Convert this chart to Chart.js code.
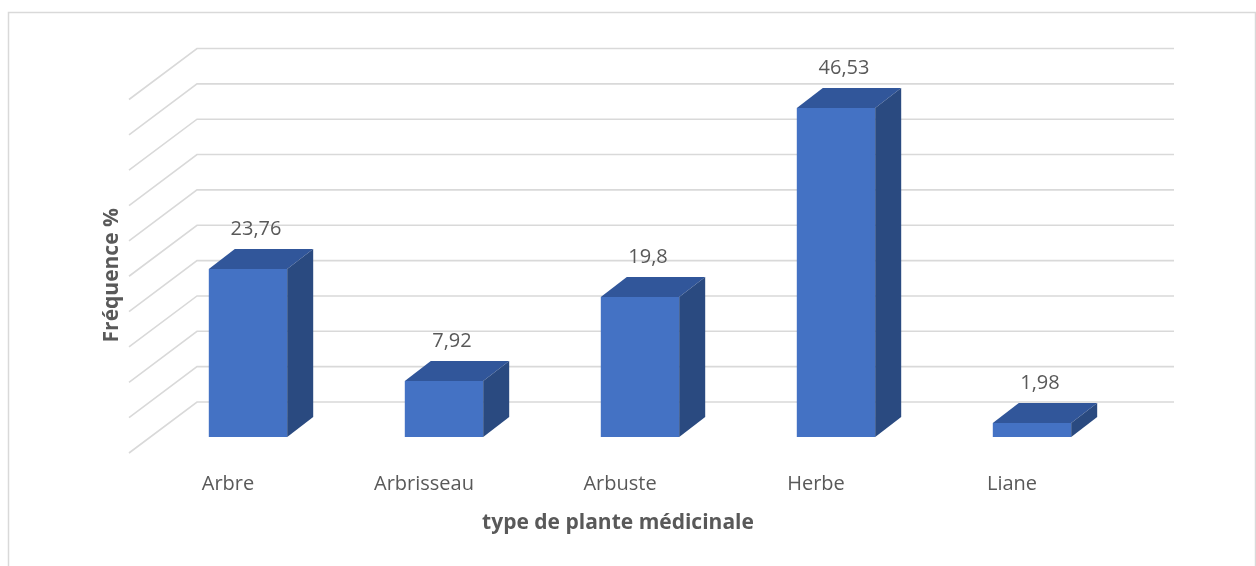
<!DOCTYPE html>
<html lang="fr">
<head>
<meta charset="utf-8">
<title>Fréquence par type de plante médicinale</title>
<script src="https://cdn.jsdelivr.net/npm/chart.js@4.4.1/dist/chart.umd.min.js"></script>
<style>
    html, body { margin: 0; padding: 0; background: #ffffff; }
    #zone { position: relative; width: 1256px; height: 566px; }
</style>
</head>
<body>
<div id="zone"><canvas id="graphique"></canvas></div>
<script>
// Données
const categories = ['Arbre', 'Arbrisseau', 'Arbuste', 'Herbe', 'Liane'];
const frequences = [23.76, 7.92, 19.8, 46.53, 1.98];
const etiquettesValeurs = ['23,76', '7,92', '19,8', '46,53', '1,98'];
const graduations = [0, 5, 10, 15, 20, 25, 30, 35, 40, 45, 50];

const titreX = 'type de plante médicinale';
const titreY = 'Fréquence %';

const COULEUR_FACE = '#4472C4';
const COULEUR_DESSUS = '#31569A';
const COULEUR_COTE = '#2A4A80';
const COULEUR_GRILLE = '#D9D9D9';
const COULEUR_TEXTE = '#595959';
const POLICE = '"Open Sans", "Liberation Sans", sans-serif';

// Effet 3D : profondeur des barres et recul du mur du fond
const PROF_X = 26, PROF_Y = -20;
const MUR_DY = -35, MUR_GAUCHE = 197, MUR_DROITE = 1174;
const COTE_DX = -68, COTE_DY = 51;

const decor3D = {
    id: 'decor3D',
    beforeDatasetsDraw(chart) {
        const ctx = chart.ctx;
        const y = chart.scales.y;
        ctx.save();

        // cadre du graphique
        ctx.strokeStyle = COULEUR_GRILLE;
        ctx.lineWidth = 1.5;
        ctx.strokeRect(8.5, 12.5, 1247, 620);

        // quadrillage sur le mur du fond et le mur de gauche
        ctx.lineWidth = 1.6;
        graduations.forEach(v => {
            const py = y.getPixelForValue(v) + MUR_DY;
            ctx.beginPath();
            ctx.moveTo(MUR_GAUCHE + COTE_DX, py + COTE_DY);
            ctx.lineTo(MUR_GAUCHE, py);
            ctx.lineTo(MUR_DROITE, py);
            ctx.stroke();
        });
        ctx.restore();
    },
    afterDatasetsDraw(chart) {
        const ctx = chart.ctx;
        const barres = chart.getDatasetMeta(0).data;
        ctx.save();

        barres.forEach((barre, i) => {
            const { x, y, base, width } = barre.getProps(['x', 'y', 'base', 'width'], true);
            const g = x - width / 2, d = x + width / 2;

            // dessus
            ctx.fillStyle = COULEUR_DESSUS;
            ctx.beginPath();
            ctx.moveTo(g, y);
            ctx.lineTo(g + PROF_X, y + PROF_Y);
            ctx.lineTo(d + PROF_X, y + PROF_Y);
            ctx.lineTo(d, y);
            ctx.closePath();
            ctx.fill();

            // côté droit
            ctx.fillStyle = COULEUR_COTE;
            ctx.beginPath();
            ctx.moveTo(d, y);
            ctx.lineTo(d + PROF_X, y + PROF_Y);
            ctx.lineTo(d + PROF_X, base + PROF_Y);
            ctx.lineTo(d, base);
            ctx.closePath();
            ctx.fill();

            // étiquette de valeur
            ctx.fillStyle = COULEUR_TEXTE;
            ctx.font = '20px ' + POLICE;
            ctx.textAlign = 'center';
            ctx.textBaseline = 'middle';
            ctx.fillText(etiquettesValeurs[i], x + 8, y + PROF_Y - 20);
        });

        // titres des axes
        const zone = chart.chartArea;
        ctx.font = 'bold 21px ' + POLICE;
        ctx.fillStyle = COULEUR_TEXTE;
        ctx.textAlign = 'center';
        ctx.textBaseline = 'middle';
        ctx.fillText(titreX, (zone.left + zone.right) / 2 - 22, zone.bottom + 86);

        ctx.translate(zone.left - 38, (zone.top + zone.bottom) / 2 + 15);
        ctx.rotate(-Math.PI / 2);
        ctx.fillText(titreY, 0, 0);
        ctx.restore();
    }
};

new Chart(document.getElementById('graphique'), {
    type: 'bar',
    data: {
        labels: categories,
        datasets: [{
            data: frequences,
            backgroundColor: COULEUR_FACE,
            borderWidth: 0,
            barPercentage: 0.4,
            categoryPercentage: 1.0
        }]
    },
    options: {
        responsive: true,
        maintainAspectRatio: false,
        animation: false,
        layout: { padding: { left: 150, right: 126, top: 83.5, bottom: 35 } },
        plugins: {
            legend: { display: false },
            tooltip: { enabled: false }
        },
        scales: {
            x: {
                grid: { display: false, drawTicks: false },
                border: { display: false },
                ticks: {
                    color: COULEUR_TEXTE,
                    font: { family: POLICE, size: 20 },
                    padding: 35,
                    labelOffset: -20,
                    maxRotation: 0
                }
            },
            y: {
                display: false,
                min: 0,
                max: 50
            }
        }
    },
    plugins: [decor3D]
});
</script>
</body>
</html>
